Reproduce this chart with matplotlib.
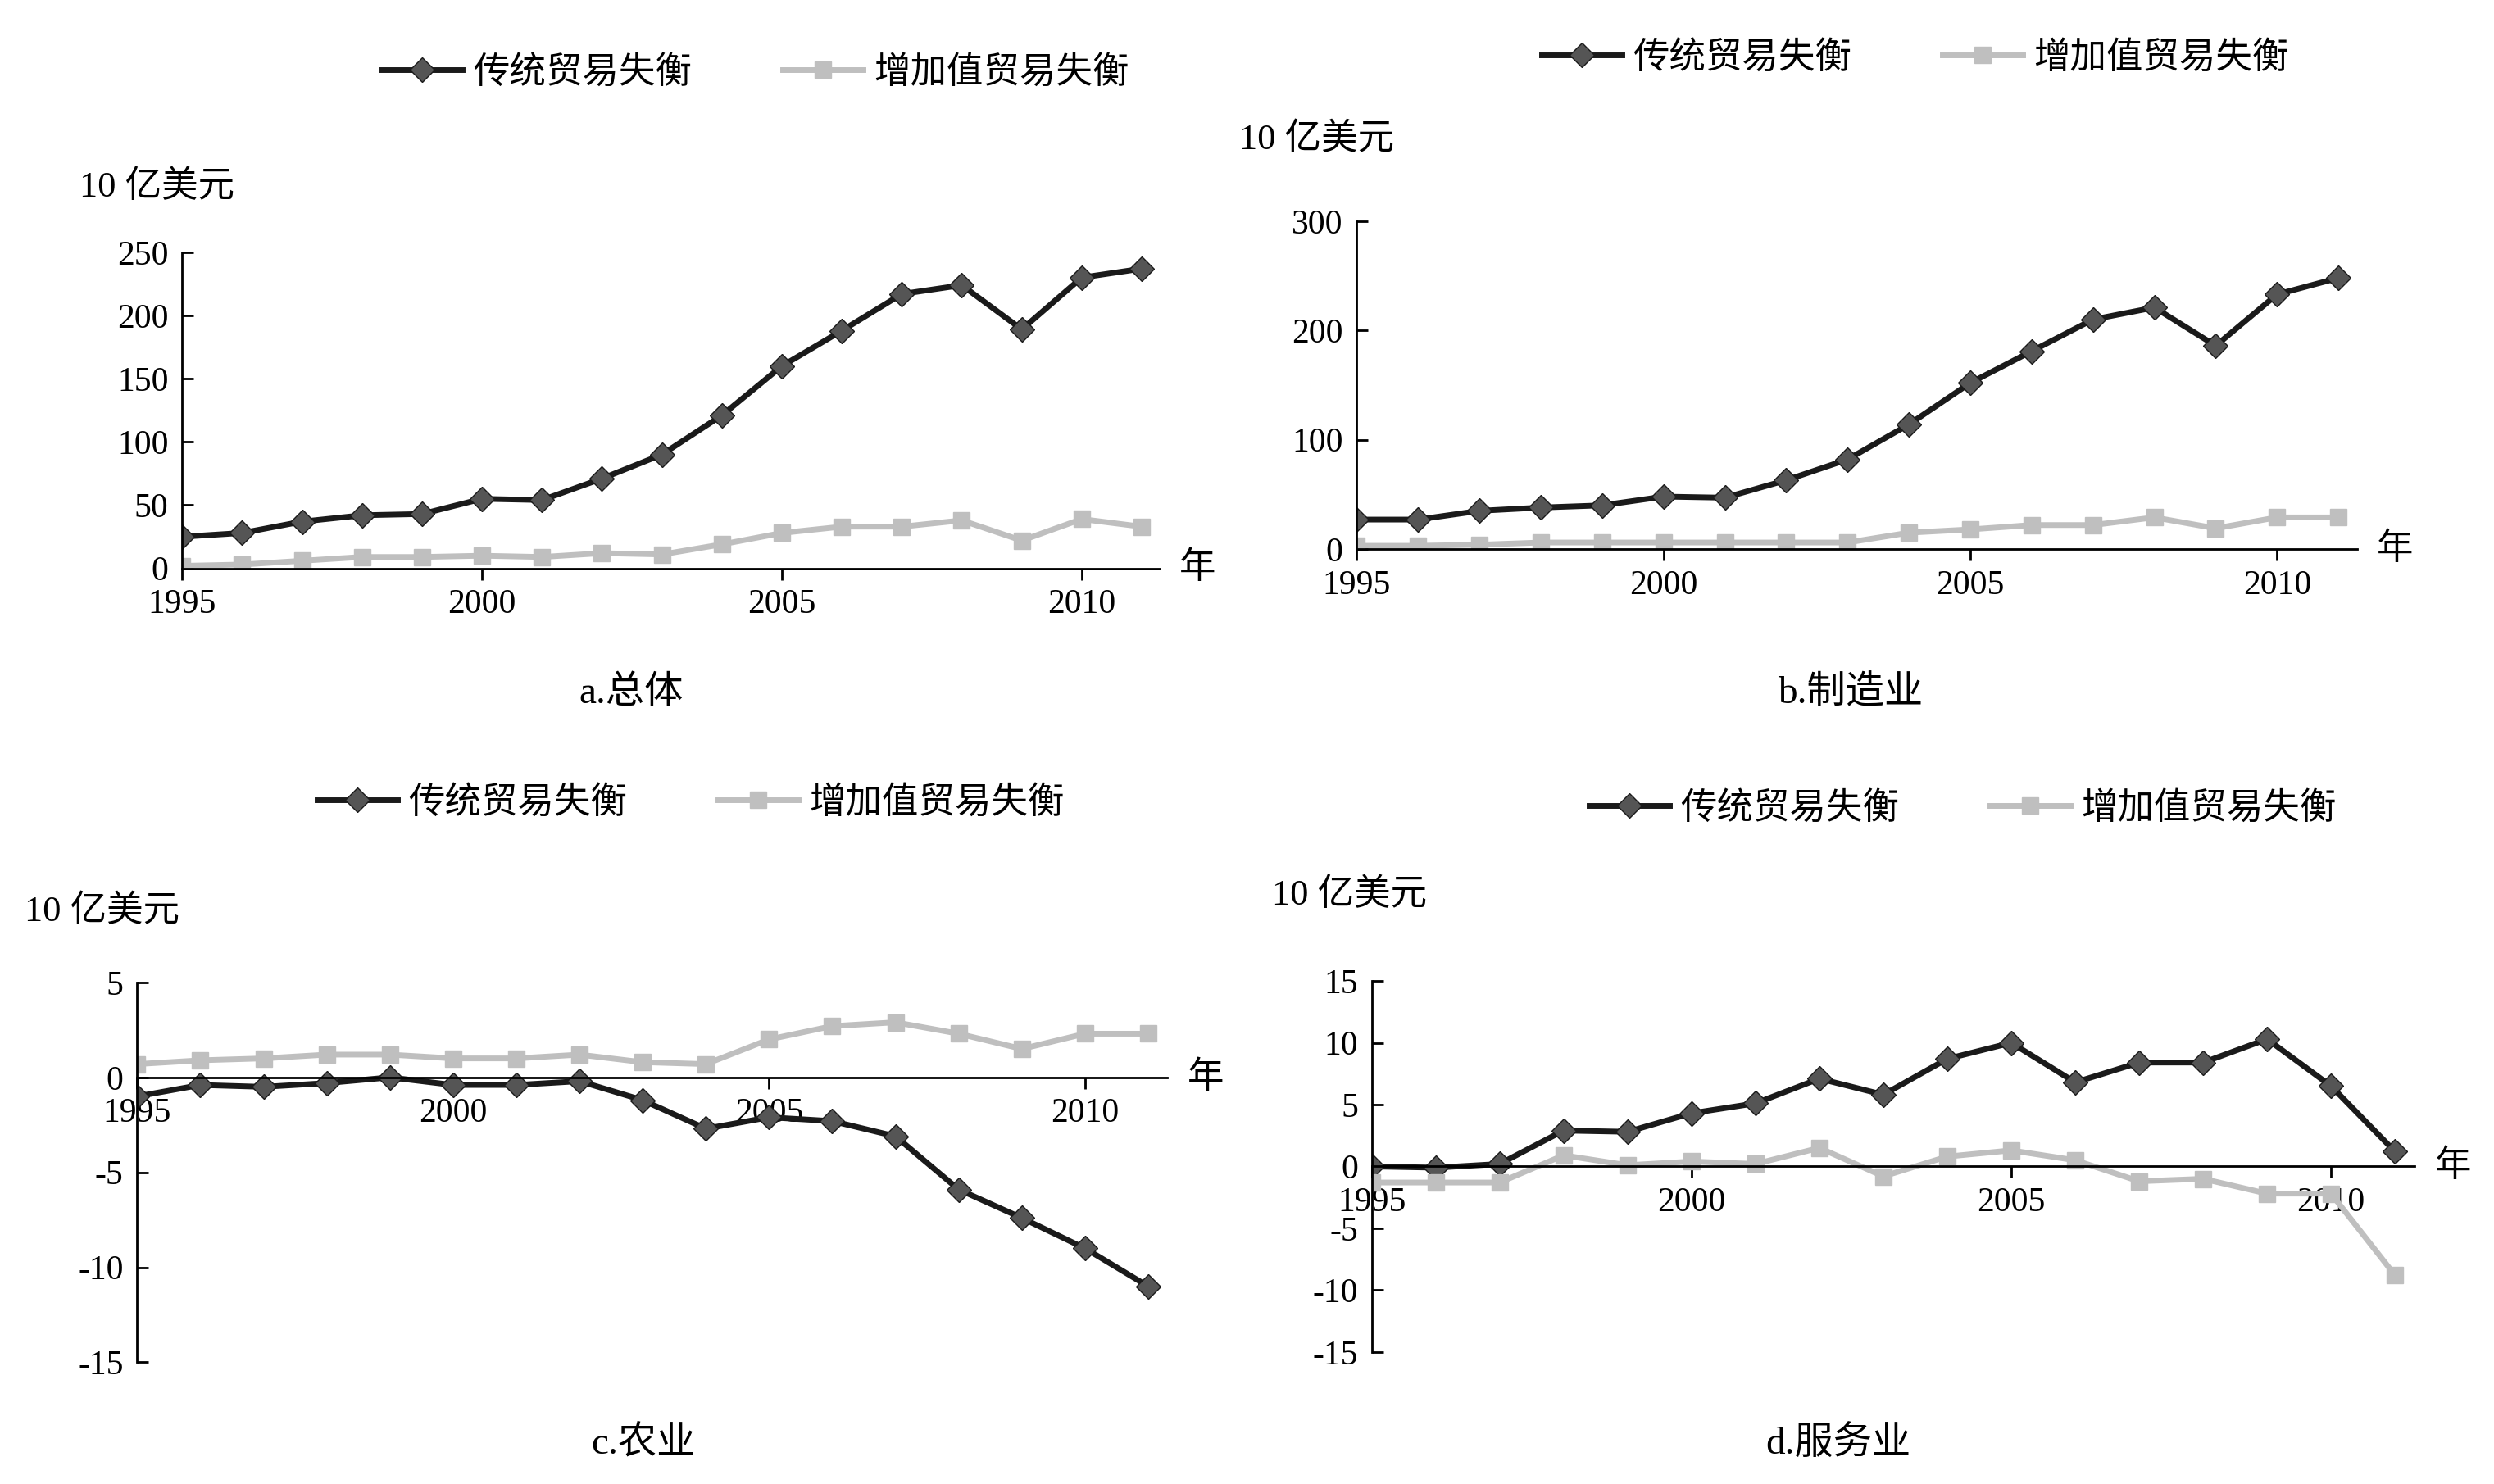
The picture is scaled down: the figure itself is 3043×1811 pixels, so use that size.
import numpy as np
import matplotlib.pyplot as plt

plt.rcParams['font.family'] = ['Liberation Serif', 'Noto Sans CJK SC']
plt.rcParams['axes.unicode_minus'] = False

years = np.arange(1995, 2012)

a_trad = [25, 28, 37, 42, 43, 55, 54, 71, 90, 121, 160, 188, 217, 224, 189, 230, 237]
a_va = [2, 3, 6, 9, 9, 10, 9, 12, 11, 19, 28, 33, 33, 38, 22, 39, 33]
b_trad = [27, 27, 35, 38, 40, 48, 47, 63, 82, 114, 152, 181, 210, 221, 186, 233, 248]
b_va = [3, 3, 4, 6, 6, 6, 6, 6, 6, 15, 18, 22, 22, 29, 19, 29, 29]
c_trad = [-1.0, -0.4, -0.5, -0.3, 0, -0.4, -0.4, -0.2, -1.2, -2.7, -2.1, -2.3, -3.1, -5.9, -7.4, -9.0, -11.0]
c_va = [0.7, 0.9, 1.0, 1.2, 1.2, 1.0, 1.0, 1.2, 0.8, 0.7, 2.0, 2.7, 2.9, 2.3, 1.5, 2.3, 2.3]
d_trad = [0, -0.1, 0.2, 2.9, 2.8, 4.3, 5.1, 7.1, 5.8, 8.7, 10, 6.8, 8.4, 8.4, 10.3, 6.5, 1.2]
d_va = [-1.3, -1.3, -1.3, 0.9, 0.1, 0.4, 0.2, 1.5, -0.8, 0.8, 1.3, 0.5, -1.2, -1.0, -2.2, -2.2, -8.8]

panels = [
    # trad, va, axes rect, ylim, yticks, title, title xy, unit xy, legend xy
    (a_trad, a_va, [0.073, 0.617, 0.392, 0.213], (0, 250), range(0, 251, 50), "a.总体",
     (0.253, 0.533), (0.032, 0.874), (0.303, 0.951)),
    (b_trad, b_va, [0.544, 0.630, 0.401, 0.221], (0, 300), range(0, 301, 100), "b.制造业",
     (0.742, 0.533), (0.497, 0.906), (0.768, 0.961)),
    (c_trad, c_va, [0.055, 0.082, 0.413, 0.256], (-15, 5), range(-15, 6, 5), "c.农业",
     (0.258, 0.027), (0.010, 0.386), (0.277, 0.459)),
    (d_trad, d_va, [0.550, 0.089, 0.418, 0.250], (-15, 15), range(-15, 16, 5), "d.服务业",
     (0.737, 0.027), (0.510, 0.397), (0.787, 0.455)),
]

fig = plt.figure(figsize=(30.43, 18.11), dpi=100)
for trad, va, rect, ylim, yt, title, txy, uxy, lxy in panels:
    ax = fig.add_axes(rect)
    ax.plot(years, trad, color='#1a1a1a', lw=5, marker='D', ms=15,
            mfc='#555555', mec='#1a1a1a', label='传统贸易失衡')
    ax.plot(years, va, color='#bfbfbf', lw=5, marker='s', ms=15,
            mfc='#bfbfbf', mec='#bfbfbf', label='增加值贸易失衡')
    ax.set_xlim(1995, 2011.3)
    ax.set_ylim(*ylim)
    ax.set_yticks(list(yt))
    ax.set_xticks([1995, 2000, 2005, 2010])
    for s in ['top', 'right']:
        ax.spines[s].set_visible(False)
    ax.spines['bottom'].set_position(('data', 0))
    ax.spines['left'].set_position(('data', 1995))
    for s in ['left', 'bottom']:
        ax.spines[s].set_linewidth(2)
    ax.tick_params(axis='y', direction='in', length=10, width=2, labelsize=30, pad=12)
    ax.tick_params(axis='x', direction='out', length=10, width=2, labelsize=30, pad=8)
    ax.text(1.02, -ylim[0] / (ylim[1] - ylim[0]), '年', transform=ax.transAxes,
            fontsize=32, va='center', ha='left')
    fig.text(uxy[0], uxy[1], '10 亿美元', fontsize=32, ha='left', va='center')
    fig.text(txy[0], txy[1], title, fontsize=34, ha='center', va='center')
    ax.legend(loc='center', bbox_to_anchor=lxy, bbox_transform=fig.transFigure,
              ncol=2, frameon=False, fontsize=32, handlelength=2.2,
              columnspacing=2.5, borderaxespad=0, handletextpad=0.3)

fig.savefig('out.png', dpi=100)
